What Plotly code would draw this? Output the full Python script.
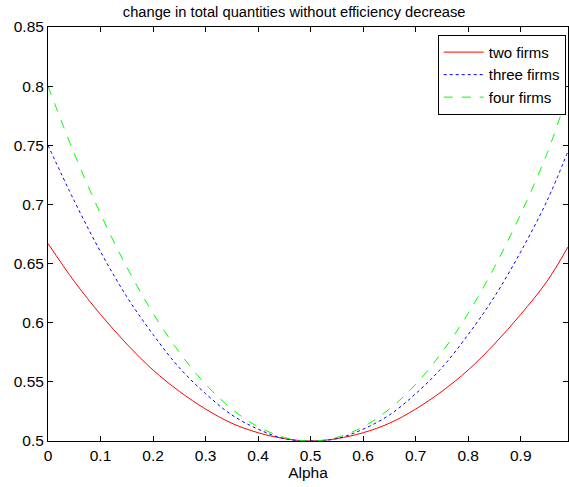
import plotly.graph_objects as go

alpha = [0.0, 0.05, 0.10, 0.15, 0.20, 0.25, 0.30, 0.35, 0.40, 0.45, 0.50,
         0.55, 0.60, 0.65, 0.70, 0.75, 0.80, 0.85, 0.90, 0.95, 0.99]
two_firms = [0.667, 0.635, 0.607, 0.582, 0.560, 0.542, 0.527, 0.515, 0.507, 0.502, 0.500,
             0.502, 0.507, 0.515, 0.527, 0.542, 0.560, 0.582, 0.607, 0.635, 0.664]
three_firms = [0.750, 0.703, 0.660, 0.622, 0.590, 0.562, 0.540, 0.522, 0.510, 0.502, 0.500,
               0.502, 0.510, 0.522, 0.540, 0.562, 0.590, 0.622, 0.660, 0.703, 0.745]
four_firms = [0.800, 0.743, 0.692, 0.647, 0.608, 0.575, 0.548, 0.527, 0.512, 0.503, 0.500,
              0.503, 0.512, 0.527, 0.548, 0.575, 0.608, 0.647, 0.692, 0.743, 0.794]

x_ticks = [0, 0.1, 0.2, 0.3, 0.4, 0.5, 0.6, 0.7, 0.8, 0.9]
y_ticks = [0.5, 0.55, 0.6, 0.65, 0.7, 0.75, 0.8, 0.85]

fig = go.Figure()
fig.add_trace(go.Scatter(x=alpha, y=two_firms, mode="lines", name="two firms",
                         line=dict(color="#ff0000", width=1, shape="spline")))
fig.add_trace(go.Scatter(x=alpha, y=three_firms, mode="lines", name="three firms",
                         line=dict(color="#0000ff", width=1, dash="dot", shape="spline")))
fig.add_trace(go.Scatter(x=alpha, y=four_firms, mode="lines", name="four firms",
                         line=dict(color="#00ff00", width=1, dash="dash", shape="spline")))

font = "Liberation Sans, Arial, sans-serif"
axis_common = dict(showline=True, linecolor="black", linewidth=1, mirror="ticks",
                   ticks="inside", ticklen=5, tickcolor="black", showgrid=False,
                   zeroline=False, tickfont=dict(family=font, size=15.5, color="black"))

fig.update_layout(
    width=569, height=487,
    margin=dict(l=48, r=1, t=27, b=46),
    paper_bgcolor="white", plot_bgcolor="white",
    title=dict(text="change in total quantities without efficiency decrease",
               x=0.517, xanchor="center", xref="container", y=0.975, yanchor="middle",
               font=dict(family=font, size=14.7, color="black")),
    xaxis=dict(range=[0, 0.99], tickvals=x_ticks, ticktext=[f"{v:g}" for v in x_ticks],
               title=dict(text="Alpha", font=dict(family=font, size=15.5, color="black"),
                          standoff=4),
               **axis_common),
    yaxis=dict(range=[0.5, 0.85], tickvals=y_ticks, ticktext=[f"{v:g}" for v in y_ticks],
               **axis_common),
    legend=dict(x=0.9956, y=0.981, xanchor="right", yanchor="top",
                bgcolor="white", bordercolor="black", borderwidth=1,
                font=dict(family=font, size=15, color="black"),
                tracegroupgap=0, itemwidth=40),
    showlegend=True,
)

fig.write_html("out.html", config={"displayModeBar": False},
               post_script="document.body.style.margin='0';")
